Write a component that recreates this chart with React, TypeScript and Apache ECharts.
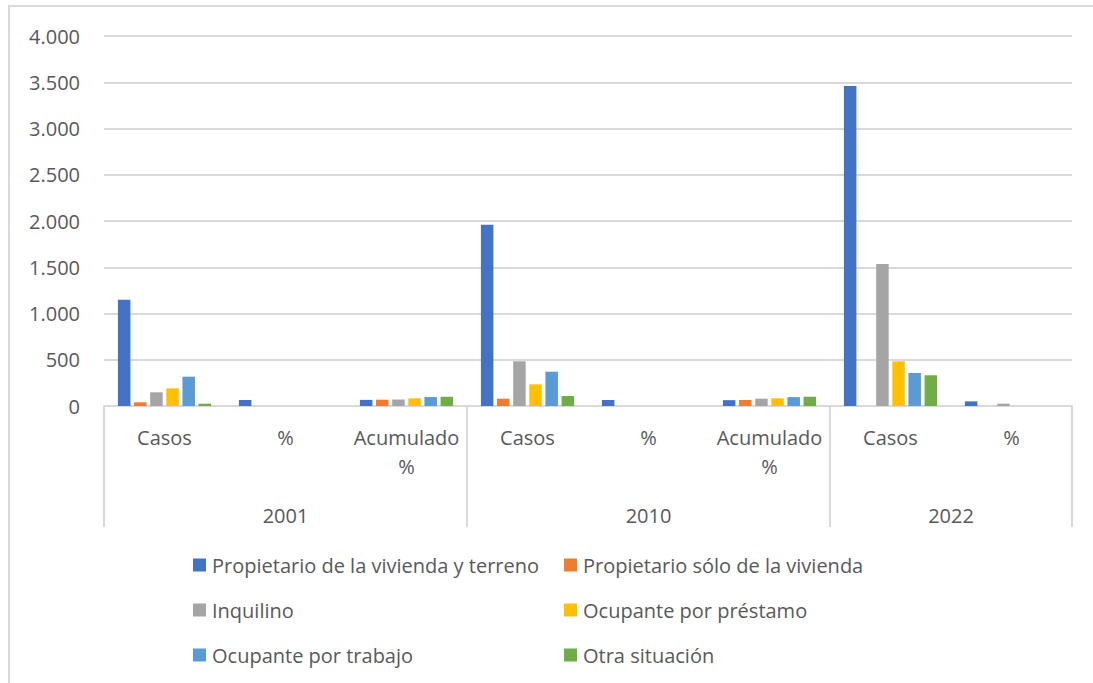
import React, { useEffect, useRef } from "react";
import * as echarts from "echarts";

const categories = ["Casos", "%", "Acumulado\n%", "Casos", "%", "Acumulado\n%", "Casos", "%"];
const years = ["2001", "2010", "2022"];
const yearSpans = [3, 3, 2];
const yTicks = [0, 500, 1000, 1500, 2000, 2500, 3000, 3500, 4000];

const seriesNames = [
  "Propietario de la vivienda y terreno",
  "Propietario sólo de la vivienda",
  "Inquilino",
  "Ocupante por préstamo",
  "Ocupante por trabajo",
  "Otra situación",
];
const propTerreno = [1150, 65, 66, 1960, 65, 63, 3460, 50];
const propVivienda = [40, 0, 68, 79, 0, 65, 0, 0];
const inquilino = [148, 0, 70, 483, 0, 79, 1535, 25];
const prestamo = [191, 0, 83, 234, 0, 83, 483, 0];
const trabajo = [317, 0, 97, 371, 0, 96, 357, 0];
const otra = [25, 0, 100, 108, 0, 100, 332, 0];
const seriesValues = [propTerreno, propVivienda, inquilino, prestamo, trabajo, otra];
const colors = ["#4472C4", "#ED7D31", "#A5A5A5", "#FFC000", "#5B9BD5", "#70AD47"];

const FONT = "'Open Sans', 'Noto Sans', sans-serif";
const TEXT = "#595959";
const GRID = "#d9d9d9";
const FS = 20;

function fmt(v: number) {
  return String(v).replace(/\B(?=(\d{3})+(?!\d))/g, ".");
}

export default function App() {
  const ref = useRef<HTMLDivElement>(null);
  useEffect(() => {
    if (!ref.current) return;
    const chart = echarts.init(ref.current, null, { renderer: "svg" });

    // second-level axis in half-category units
    const total = categories.length;
    const yearData: string[] = new Array(total * 2 + 1).fill("");
    const boundaries = new Set<number>();
    let start = 0;
    years.forEach((y, i) => {
      boundaries.add(start * 2);
      yearData[start * 2 + yearSpans[i]] = y;
      start += yearSpans[i];
    });
    boundaries.add(start * 2);

    const legendText = { fontSize: FS, color: TEXT, fontFamily: FONT, lineHeight: 20, padding: [0, 0, 0, 1] };

    chart.setOption({
      animation: false,
      textStyle: { fontFamily: FONT },
      grid: { left: 104, right: 21, top: 36, bottom: 277, containLabel: false },
      legend: [
        {
          orient: "vertical",
          left: 188,
          top: 550,
          itemWidth: 13,
          itemHeight: 13,
          itemGap: 25,
          icon: "rect",
          data: [seriesNames[0], seriesNames[2], seriesNames[4]],
          textStyle: legendText,
        },
        {
          orient: "vertical",
          left: 559,
          top: 550,
          itemWidth: 13,
          itemHeight: 13,
          itemGap: 25,
          icon: "rect",
          data: [seriesNames[1], seriesNames[3], seriesNames[5]],
          textStyle: legendText,
        },
      ],
      xAxis: [
        {
          type: "category",
          data: categories,
          axisLine: { show: true, lineStyle: { color: GRID, width: 2 } },
          axisTick: { show: false },
          axisLabel: {
            interval: 0,
            color: TEXT,
            fontSize: FS,
            lineHeight: 29,
            margin: 17,
            fontFamily: FONT,
          },
        },
        {
          type: "category",
          position: "bottom",
          boundaryGap: false,
          data: yearData,
          axisLine: { show: false },
          axisTick: {
            show: true,
            interval: (i: number) => boundaries.has(i),
            length: 121,
            lineStyle: { color: GRID, width: 2 },
          },
          axisLabel: {
            interval: 0,
            color: TEXT,
            fontSize: FS,
            lineHeight: 29,
            margin: 95,
            fontFamily: FONT,
          },
          splitLine: { show: false },
        },
      ],
      yAxis: {
        type: "value",
        min: yTicks[0],
        max: yTicks[yTicks.length - 1],
        interval: yTicks[1] - yTicks[0],
        axisLine: { show: false },
        axisTick: { show: false },
        splitLine: { lineStyle: { color: GRID, width: 2 } },
        axisLabel: { color: TEXT, fontSize: FS, margin: 24, fontFamily: FONT, formatter: (v: number) => fmt(v) },
      },
      series: seriesNames.map((name, i) => ({
        name,
        type: "bar",
        xAxisIndex: 0,
        data: seriesValues[i],
        barGap: "29%",
        barCategoryGap: "23%",
        itemStyle: { color: colors[i] },
      })),
    });
    return () => chart.dispose();
  }, []);

  return (
    <div style={{ position: "absolute", left: 0, top: 0, width: 1093, height: 683, background: "#fff" }}>
      <div ref={ref} style={{ position: "absolute", left: 0, top: 0, width: 1093, height: 683 }} />
      <div
        style={{
          position: "absolute",
          left: 8,
          top: 5,
          width: 1085,
          height: 678,
          borderTop: "2px solid #d9d9d9",
          borderLeft: "2px solid #d9d9d9",
          boxSizing: "border-box",
          pointerEvents: "none",
        }}
      />
    </div>
  );
}
